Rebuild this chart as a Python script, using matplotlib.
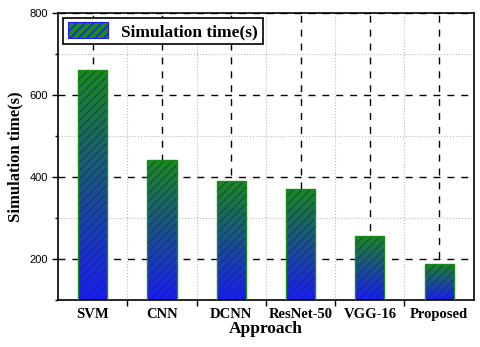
import numpy as np
import matplotlib
matplotlib.use("Agg")
import matplotlib.pyplot as plt
from matplotlib.colors import LinearSegmentedColormap
from matplotlib.ticker import MultipleLocator

approaches = ["SVM", "CNN", "DCNN", "ResNet-50", "VGG-16", "Proposed"]
sim_time = [660, 441, 390, 371, 256, 188]

SERIF = ["Liberation Serif", "DejaVu Serif"]
plt.rcParams["hatch.linewidth"] = 1.0
cmap = LinearSegmentedColormap.from_list("gb", ["#1a1aff", "#1a8a1a"])

fig = plt.figure(figsize=(4.8, 3.47), dpi=100)
ax = fig.add_axes([0.121, 0.135, 0.866, 0.828])

x = np.arange(1, len(approaches) + 1)
bars = ax.bar(x, sim_time, width=0.42, color="none", edgecolor="#1a8a1a",
              linewidth=1.0, zorder=3)
grad = np.linspace(0, 1, 256).reshape(-1, 1)
for b in bars:
    x0, w, h = b.get_x(), b.get_width(), b.get_height()
    im = ax.imshow(grad, cmap=cmap, origin="lower", aspect="auto",
                   extent=(x0, x0 + w, 100, h), zorder=2)
    im.set_clip_path(b)
# hatch overlay
ax.bar(x, sim_time, width=0.42, color="none", edgecolor="#103050", hatch="////",
       linewidth=0, zorder=2.5, alpha=0.55)

ax.set_xlim(0.5, 6.5)
ax.set_ylim(100, 800)
ax.yaxis.set_major_locator(MultipleLocator(200))
ax.yaxis.set_minor_locator(MultipleLocator(100))
ax.set_xticks(x)
ax.set_xticks(x[:-1] + 0.5, minor=True)
ax.set_xticklabels(approaches, fontfamily=SERIF, fontweight="bold", fontsize=10.5)
for t in ax.get_yticklabels():
    t.set_fontfamily("Liberation Sans")
ax.tick_params(axis="y", labelsize=8, direction="out", length=4, width=1)
ax.tick_params(axis="y", which="minor", length=2.5, width=1)
ax.tick_params(axis="x", which="major", length=0, pad=6)
ax.tick_params(axis="x", which="minor", length=4, direction="out", width=1)
ax.set_axisbelow(True)
ax.grid(which="major", color="black", linestyle=(0, (5, 5)), linewidth=1.0, zorder=0)
ax.grid(which="minor", color="#bbbbbb", linestyle=":", linewidth=0.8, zorder=0)
for s in ax.spines.values():
    s.set_linewidth(1.2)

ax.set_xlabel("Approach", fontfamily=SERIF, fontweight="bold", fontsize=12.5, labelpad=0)
ax.set_ylabel("Simulation time(s)", fontfamily=SERIF, fontweight="bold", fontsize=12, labelpad=4)

handle = plt.Rectangle((0, 0), 1, 1, facecolor="#1a8a1a", edgecolor="#1a1aff", hatch="////",
                       linewidth=0.8)
leg = ax.legend([handle], ["Simulation time(s)"], loc="upper left", fancybox=False,
                prop={"family": SERIF, "weight": "bold", "size": 12.5},
                borderaxespad=0.3, handlelength=2.3, handleheight=1.0, borderpad=0.25)
leg.get_frame().set_edgecolor("black")
leg.get_frame().set_linewidth(1.2)
leg.get_frame().set_alpha(1)

fig.savefig("out.png", dpi=100)
